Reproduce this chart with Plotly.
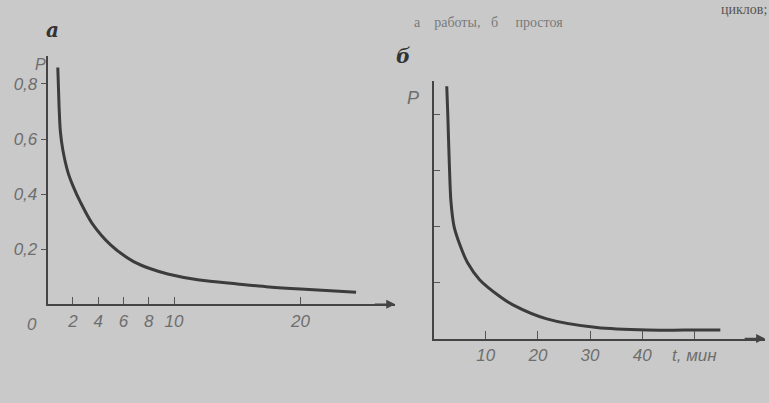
import plotly.graph_objects as go

# Panel a: P(t) for work cycles
t_a = [0.8, 0.9, 1.0, 1.2, 1.6, 2.0, 2.6, 3.5, 5.0, 6.8, 8.2, 9.5, 12.0, 15.0, 17.5, 20.0, 24.4]
p_a = [0.86, 0.72, 0.63, 0.56, 0.48, 0.43, 0.37, 0.295, 0.215, 0.155, 0.128, 0.11, 0.088, 0.074, 0.063, 0.055, 0.044]
xticks_a = [2, 4, 6, 8, 10, 20]
yticks_a = [0.2, 0.4, 0.6, 0.8]
ytext_a = ["0,2", "0,4", "0,6", "0,8"]

# Panel b: P(t) for idle periods
t_b = [2.5, 2.7, 3.0, 3.3, 3.9, 5.0, 6.5, 8.8, 12.7, 15.2, 21.7, 31.3, 41.0, 48.0, 55.0]
p_b = [0.90, 0.80, 0.62, 0.49, 0.40, 0.335, 0.27, 0.21, 0.15, 0.12, 0.07, 0.039, 0.03, 0.03, 0.03]
xticks_b = [10, 20, 30, 40, 50]
xtext_b = ["10", "20", "30", "40", "t, мин"]
yticks_b = [0.2, 0.4, 0.6, 0.8, 0.92]

BG = "#c9c9c9"
INK = "#3c3c3c"
TXT = "#6e6e6e"

fig = go.Figure()
fig.add_trace(go.Scatter(x=t_a, y=p_a, mode="lines", line=dict(color=INK, width=3, shape="spline", smoothing=0.8),
                         xaxis="x", yaxis="y", showlegend=False, hoverinfo="skip"))
fig.add_trace(go.Scatter(x=t_b, y=p_b, mode="lines", line=dict(color=INK, width=3, shape="spline", smoothing=0.8),
                         xaxis="x2", yaxis="y2", showlegend=False, hoverinfo="skip"))

tickfont = dict(family="Liberation Sans, Arial", size=17, color=TXT, style="italic")

fig.update_layout(
    width=769, height=403,
    margin=dict(l=0, r=0, t=0, b=0),
    paper_bgcolor=BG, plot_bgcolor=BG,
    showlegend=False,
    xaxis=dict(domain=[0.062, 0.514], range=[0, 27.5], tickvals=xticks_a, ticktext=[str(v) for v in xticks_a],
               ticks="inside", ticklen=7, tickcolor="#555", tickwidth=1,
               showline=True, linecolor="#444", linewidth=2, showgrid=False, zeroline=False,
               tickfont=tickfont, anchor="y"),
    yaxis=dict(domain=[0.245, 0.86], range=[0, 0.9], tickvals=yticks_a, ticktext=ytext_a,
               ticks="outside", ticklen=5, tickcolor="#555", tickwidth=1,
               showline=True, linecolor="#444", linewidth=2, showgrid=False, zeroline=False,
               tickfont=tickfont, anchor="x"),
    xaxis2=dict(domain=[0.564, 0.995], range=[0, 63.6], tickvals=xticks_b, ticktext=xtext_b,
                ticks="inside", ticklen=8, tickcolor="#555", tickwidth=1,
                showline=True, linecolor="#444", linewidth=2, showgrid=False, zeroline=False,
                tickfont=tickfont, anchor="y2"),
    yaxis2=dict(domain=[0.16, 0.80], range=[0, 0.92], tickvals=yticks_b, ticktext=[""] * len(yticks_b),
                ticks="inside", ticklen=6, tickcolor="#555", tickwidth=1,
                showline=True, linecolor="#444", linewidth=2, showgrid=False, zeroline=False,
                anchor="x2"),
)

ann = []
# axis arrows
ann.append(dict(xref="x domain", yref="y domain", x=1.0, y=0, ax=-22, ay=0, axref="pixel", ayref="pixel",
                showarrow=True, arrowhead=2, arrowsize=1.2, arrowwidth=1.5, arrowcolor="#444", text=""))
ann.append(dict(xref="x2 domain", yref="y2 domain", x=1.0, y=0, ax=-22, ay=0, axref="pixel", ayref="pixel",
                showarrow=True, arrowhead=2, arrowsize=1.2, arrowwidth=1.5, arrowcolor="#444", text=""))
# origin label
ann.append(dict(xref="x", yref="y", x=0, y=0, xshift=-16, yshift=-20, text="0", showarrow=False,
                font=tickfont))
# P labels
ann.append(dict(xref="paper", yref="paper", x=33 / 769, y=1 - 54 / 403, text="P", showarrow=False,
                font=dict(family="Liberation Sans, Arial", size=16, color=TXT, style="italic")))
ann.append(dict(xref="paper", yref="paper", x=413 / 769, y=1 - 86 / 403, text="P", showarrow=False,
                font=dict(family="Liberation Sans, Arial", size=18, color=TXT, style="italic")))
# panel letters
ann.append(dict(xref="paper", yref="paper", x=44 / 769, y=1 - 16 / 403, text="<b>а</b>", showarrow=False,
                font=dict(family="DejaVu Serif", size=20, color="#333", style="italic")))
ann.append(dict(xref="paper", yref="paper", x=403 / 769, y=1 - 42 / 403, text="<b>б</b>", showarrow=False,
                font=dict(family="DejaVu Serif", size=20, color="#333", style="italic")))
# caption fragment at top
ann.append(dict(xref="paper", yref="paper", x=412 / 769, y=1 - 13 / 403, xanchor="left",
                text="а    работы,   б     простоя", showarrow=False,
                font=dict(family="Liberation Serif", size=14, color="#7a7a7a")))
ann.append(dict(xref="paper", yref="paper", x=1.0, y=1.0, xanchor="right", yanchor="top",
                text="циклов;", showarrow=False,
                font=dict(family="Liberation Serif", size=14, color="#555")))
fig.update_layout(annotations=ann)

fig.write_html("out.html")
